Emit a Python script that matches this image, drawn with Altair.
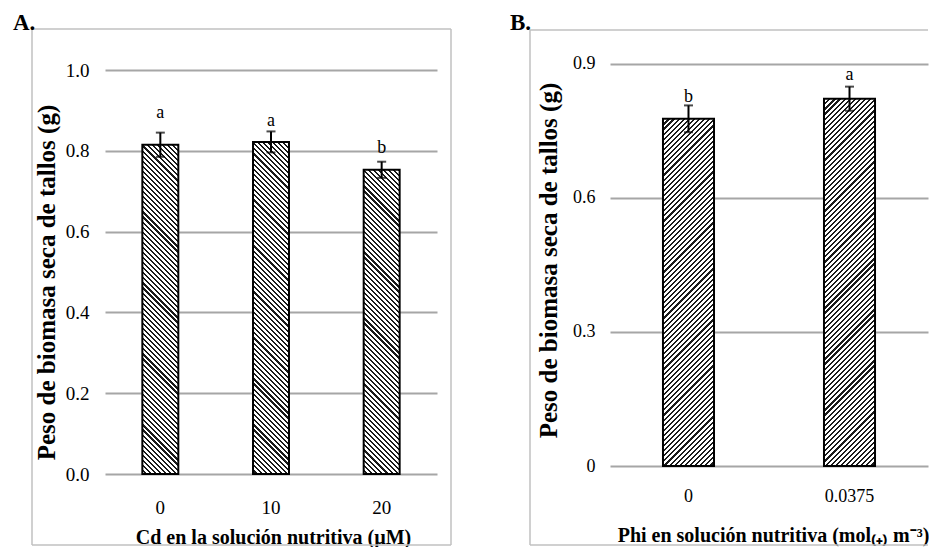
import math
import altair as alt
import pandas as pd

# ---------------- data ----------------
cd_levels = ["0", "10", "20"]
cd_means = [0.815, 0.822, 0.753]
cd_err = [0.030, 0.026, 0.020]
cd_letters = ["a", "a", "b"]
cd_letter_y = [0.881, 0.861, 0.795]

phi_levels = ["0", "0.0375"]
phi_means = [0.777, 0.822]
phi_err = [0.030, 0.027]
phi_letters = ["b", "a"]
phi_letter_y = [0.815, 0.864]

A_ticks = [0.0, 0.2, 0.4, 0.6, 0.8, 1.0]
B_ticks = [0.0, 0.3, 0.6, 0.9]

FONT = "Liberation Serif"
GRID = "#a6a6a6"
FRAME = "#c0c0c0"

# ---------------- geometry ----------------
A_W, A_H = 332, 445
A_TOP = 1.1015
B_W, B_H = 318, 437
B_TOP = 0.978


def hatch(w, h, backslash, period=3.6, frac=0.42, dark="#1a1a1a"):
    """Diagonal stripe fill made from a linear gradient (bounding-box units)."""
    r = w / h
    lam = (1 + r) / (1 + r * r)
    if backslash:
        x1, y1, x2, y2 = 1.0, 0.0, 1 - lam * r, lam
    else:
        x1, y1, x2, y2 = 0.0, 0.0, lam * r, lam
    span = (w + h) / math.sqrt(2)
    n = max(1, int(round(span / period)))
    stops = []
    for k in range(n):
        a = k / n
        b = (k + frac) / n
        c = (k + 1) / n
        stops += [
            alt.GradientStop(offset=a, color=dark),
            alt.GradientStop(offset=b, color=dark),
            alt.GradientStop(offset=b, color="white"),
            alt.GradientStop(offset=c, color="white"),
        ]
    return alt.LinearGradient(gradient="linear", stops=stops, x1=x1, y1=y1, x2=x2, y2=y2)


def panel(levels, means, errs, letters, letter_y, ticks, W, H, top, pI, pO, align,
          backslash, tick_fmt, label_size, frame, right_side, tag, ytitle_xy, xtitle_xy,
          xtitle, lab_pad_x, lab_pad_y):
    df = pd.DataFrame({
        "cat": levels,
        "mean": means,
        "lo": [m - e for m, e in zip(means, errs)],
        "hi": [m + e for m, e in zip(means, errs)],
        "letter": letters,
        "ly": letter_y,
    })
    step = W / (len(levels) - pI + 2 * pO)
    bw = step * (1 - pI)
    pxu = H / top

    xscale = alt.Scale(domain=levels, paddingInner=pI, paddingOuter=pO, align=align)
    yscale = alt.Scale(domain=[0, top], nice=False, zero=True)

    xaxis = alt.Axis(
        title=xtitle, labelAngle=0, domain=False, ticks=False, grid=False,
        labelFont=FONT, labelFontSize=label_size, labelColor="black",
        labelPadding=lab_pad_x,
        titleFont=FONT, titleFontSize=20, titleFontWeight="bold", titleColor="black",
        titleX=xtitle_xy[0], titleY=xtitle_xy[1], titleBaseline="middle",
        titleAlign="center",
    )
    yaxis = alt.Axis(
        title="Peso de biomasa seca de tallos (g)",
        values=ticks, labelExpr=tick_fmt, domain=False, ticks=False,
        grid=True, gridColor=GRID, gridWidth=2,
        labelFont=FONT, labelFontSize=label_size, labelColor="black",
        labelPadding=lab_pad_y,
        titleFont=FONT, titleFontSize=25, titleFontWeight="bold", titleColor="black",
        titleX=ytitle_xy[0], titleY=ytitle_xy[1], titleBaseline="middle",
        titleAlign="center", titleAngle=270,
    )
    X = alt.X("cat:N", sort=levels, scale=xscale, axis=xaxis)

    layers = []
    for i, lev in enumerate(levels):
        h = means[i] * pxu
        grad = hatch(bw, h, backslash)
        layers.append(
            alt.Chart(df).transform_filter(alt.datum.cat == lev)
            .mark_bar(fill=grad, stroke="black", strokeWidth=2)
            .encode(x=X, y=alt.Y("mean:Q", scale=yscale, axis=yaxis))
        )
    base = alt.Chart(df).encode(x=X)
    err = base.mark_rule(color="black", strokeWidth=2).encode(
        y=alt.Y("lo:Q", scale=yscale, axis=yaxis), y2="hi:Q")
    cap_lo = base.mark_tick(color="black", thickness=2, size=9).encode(
        y=alt.Y("lo:Q", scale=yscale, axis=yaxis))
    cap_hi = base.mark_tick(color="black", thickness=2, size=9).encode(
        y=alt.Y("hi:Q", scale=yscale, axis=yaxis))
    lett = base.mark_text(font=FONT, fontSize=18, color="black", baseline="alphabetic").encode(
        y=alt.Y("ly:Q", scale=yscale, axis=yaxis), text="letter:N")

    fdf = pd.DataFrame({"k": [0]})
    fx0, fx1, fy0, fy1 = frame
    fr = []
    fr.append(alt.Chart(fdf).mark_rule(color=FRAME, strokeWidth=1.5).encode(
        x=alt.value(fx0), x2=alt.value(fx1), y=alt.value(fy0)))
    fr.append(alt.Chart(fdf).mark_rule(color=FRAME, strokeWidth=1.5).encode(
        x=alt.value(fx0), x2=alt.value(fx1), y=alt.value(fy1)))
    fr.append(alt.Chart(fdf).mark_rule(color=FRAME, strokeWidth=1.5).encode(
        x=alt.value(fx0), y=alt.value(fy0), y2=alt.value(fy1)))
    if right_side:
        fr.append(alt.Chart(fdf).mark_rule(color=FRAME, strokeWidth=1.5).encode(
            x=alt.value(fx1), y=alt.value(fy0), y2=alt.value(fy1)))
    tag_txt = alt.Chart(fdf).mark_text(
        text=tag[0], font=FONT, fontSize=23, fontWeight="bold", color="black",
        align="left", baseline="top"
    ).encode(x=alt.value(tag[1]), y=alt.value(tag[2]))

    return alt.layer(*fr, *layers, err, cap_lo, cap_hi, lett, tag_txt).properties(
        width=W, height=H)


fmtA = "format(datum.value, '.1f')"
fmtB = "datum.value == 0 ? '0' : format(datum.value, '.1f')"

chartA = panel(cd_levels, cd_means, cd_err, cd_letters, cd_letter_y, A_ticks,
               A_W, A_H, A_TOP, 0.675, 0.3375, 0.5, True, fmtA, 19,
               (-73, 346, 0, 516), True, ("A.", -92, -17), (-59, 253), (168, 63),
               "Cd en la solución nutritiva (µM)", 24, 16)
chartB = panel(phi_levels, phi_means, phi_err, phi_letters, phi_letter_y, B_ticks,
               B_W, B_H, B_TOP, 0.683, 0.329, 0.5, False, fmtB, 18,
               (-80, 318, 1, 516), False, ("B.", -100, -17), (-62, 231), (163, 69),
               "Phi en solución nutritiva (mol₍₊₎ m⁻³)", 21, 15)

chart = alt.hconcat(chartA, chartB, spacing=173, bounds="flush").properties(
    padding={"left": 5, "top": 4, "right": 0, "bottom": 0}
).configure_view(stroke=None)

chart.save("out.html", embed_options={"renderer": "svg", "actions": False})
